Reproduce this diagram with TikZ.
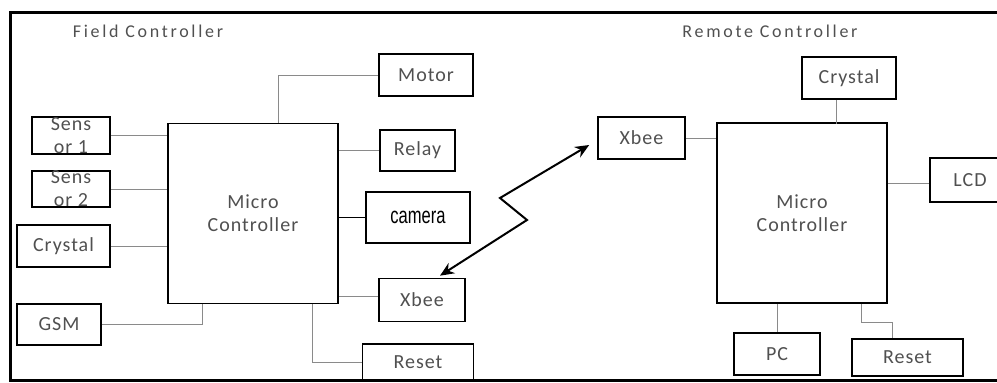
\documentclass[tikz,border=0pt]{standalone}
\usepackage{fontspec}
\setmainfont{Carlito}[LetterSpace=5]
\newfontfamily\titlefont{Carlito}[LetterSpace=15]
\newfontfamily\camfont{Liberation Sans}
\usepackage{xcolor}
\usetikzlibrary{arrows.meta,positioning,calc}

\definecolor{txtgray}{HTML}{505050}
\definecolor{wiregray}{HTML}{8A8A8A}

\begin{document}
\begin{tikzpicture}[
    x=1pt, y=-1pt,
    box/.style={
        rectangle,
        draw,
        line width=1.6pt,
        inner sep=0pt,
        align=center,
        text=txtgray,
        font=\fontsize{20}{23}\selectfont
    },
    title/.style={
        text=txtgray,
        font=\titlefont\fontsize{18}{20}\selectfont
    },
    wire/.style={
        draw=wiregray,
        line width=1pt
    },
    link/.style={
        <->,
        >={Stealth[length=14pt,width=12pt]},
        line width=2pt
    }
]
\useasboundingbox (0,0) rectangle (997,383);
\begin{scope}
\clip (0,0) rectangle (997,383);

% Frame
\draw[line width=3pt] (10,12) rectangle (1020,380);

% Titles
\node[title] (ftitle) at (148,31) {Field Controller};
\node[title] (rtitle) at (770,31) {Remote Controller};

% Field controller
\node[box, minimum width=170, minimum height=180] (fmicro) at (253,213.5) {Micro\\Controller};
\node[box, minimum width=78, minimum height=37] (fsens1) at (71,135.5) {Sens\\or 1};
\node[box, minimum width=78, minimum height=36] (fsens2) at (71,189) {Sens\\or 2};
\node[box, minimum width=93, minimum height=42] (fcrystal) at (63.5,246) {Crystal};
\node[box, minimum width=84, minimum height=41] (fgsm) at (59,324.5) {GSM};
\node[box, minimum width=94, minimum height=42] (fmotor) at (426,75) {Motor};
\node[box, minimum width=75, minimum height=41] (frelay) at (417.5,150.5) {Relay};
\node[box, minimum width=104, minimum height=51, text=black,
      font=\camfont\fontsize{23}{25}\selectfont] (fcamera) at (418,217.5) {\scalebox{0.72}[1]{camera}};
\node[box, minimum width=86, minimum height=43] (fxbee) at (422,300) {Xbee};
\node[box, minimum width=111, minimum height=36] (freset) at (418,362) {Reset};

% Remote controller
\node[box, minimum width=170, minimum height=180] (rmicro) at (802,213) {Micro\\Controller};
\node[box, minimum width=94, minimum height=42] (rcrystal) at (849,78) {Crystal};
\node[box, minimum width=87, minimum height=42] (rxbee) at (641.5,138) {Xbee};
\node[box, minimum width=80, minimum height=44] (rlcd) at (970,180) {LCD};
\node[box, minimum width=86, minimum height=42] (rpc) at (777,354) {PC};
\node[box, minimum width=111, minimum height=37] (rreset) at (907.5,357.5) {Reset};

% Field wires
\draw[wire] (fsens1.east) -- (fsens1.east -| fmicro.west);
\draw[wire] (fsens2.east) -- (fsens2.east -| fmicro.west);
\draw[wire] (fcrystal.east) -- (fcrystal.east -| fmicro.west);
\draw[wire] (fgsm.east) -| ([xshift=-51]fmicro.south);
\draw[wire] ([xshift=25]fmicro.north) |- (fmotor.west);
\draw[wire] (frelay.west) -- (frelay.west -| fmicro.east);
\draw[line width=1.6pt] (fcamera.west) -- (fcamera.west -| fmicro.east);
\draw[wire] ([yshift=4]fxbee.west) -- ([yshift=4]fxbee.west -| fmicro.east);
\draw[wire] ([xshift=59]fmicro.south) |- (freset.west);

% Remote wires
\draw[wire] (rcrystal.south -| rmicro.north) ++(34,0) -- ++(0,24);
\draw[wire] (rxbee.east) -- (rxbee.east -| rmicro.west);
\draw[wire] ([yshift=-3]rlcd.west) -- ([yshift=-3]rlcd.west -| rmicro.east);
\draw[wire] ([xshift=-25]rmicro.south) -- ([xshift=0]rpc.north);
\draw[wire] ([xshift=59]rmicro.south) -- ++(0,19) -| ([xshift=-15]rreset.north);

% Wireless link
\coordinate (zig1) at (527,220);
\coordinate (zig2) at (500,198);
\draw[link] ([xshift=18,yshift=2]fxbee.north) -- (zig1) -- (zig2) -- ([xshift=-8,yshift=-7]rxbee.west);

\end{scope}
\end{tikzpicture}
\end{document}
